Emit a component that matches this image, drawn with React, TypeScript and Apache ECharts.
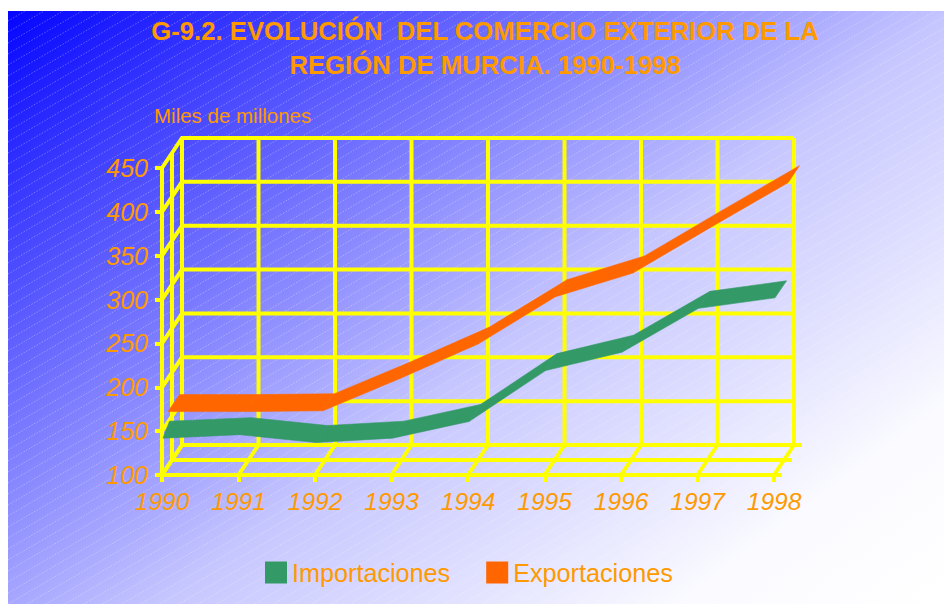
import React, { useEffect, useRef } from "react";
import * as echarts from "echarts";

const categories = ["1990", "1991", "1992", "1993", "1994", "1995", "1996", "1997", "1998"];
const importaciones = [142, 146, 137, 142, 161, 219, 240, 290, 302];
const exportaciones = [162, 162, 163, 200, 239, 293, 320, 372, 423];
const valueTicks = [100, 150, 200, 250, 300, 350, 400, 450];
const titleText = "G-9.2. EVOLUCIÓN  DEL COMERCIO EXTERIOR DE LA\nREGIÓN DE MURCIA. 1990-1998";
const unitText = "Miles de millones";

const ORANGE_TEXT = "#FF9900";
const YELLOW = "#FFFF00";
const GREEN = "#339966";
const RED_ORANGE = "#FF6600";
const FONT = "'Liberation Sans', Arial, sans-serif";
const LINE = 4;

// panel + diagonal hatching
const PX = 8, PY = 11, PW = 936, PH = 593;
function hatchPath() {
  const slope = 0.58, step = 11;
  let d = "";
  for (let y0 = 21; y0 < PY + PH + PW * slope; y0 += step) {
    let x1 = PX, y1 = y0;
    if (y1 > PY + PH) { x1 = PX + (y1 - (PY + PH)) / slope; y1 = PY + PH; }
    let x2 = PX + PW, y2 = y0 - PW * slope;
    if (y2 < PY) { x2 = PX + (y0 - PY) / slope; y2 = PY; }
    if (x1 < x2) d += `M${x1.toFixed(1)} ${y1.toFixed(1)}L${x2.toFixed(1)} ${y2.toFixed(1)}`;
  }
  return d;
}
echarts.graphic.registerShape("hatch", (echarts.graphic as any).extendPath(hatchPath(), {}));

// depth of the 3D box
const DX = 20, DY = -30;
const last = categories.length - 1;

function wallH(params: any, api: any) {
  const v = api.value(1);
  const a = api.coord([0, v]);
  const b = api.coord([last, v]);
  return {
    type: "polyline",
    shape: { points: [a, [a[0] + DX, a[1] + DY], [b[0] + DX, b[1] + DY]] },
    style: { stroke: YELLOW, fill: "none", lineWidth: LINE },
  };
}
function wallV(params: any, api: any) {
  const i = api.value(0);
  const a = api.coord([i, valueTicks[0]]);
  const t = api.coord([i, valueTicks[valueTicks.length - 1]]);
  return {
    type: "polyline",
    shape: { points: [a, [a[0] + DX, a[1] + DY], [t[0] + DX, t[1] + DY]] },
    style: { stroke: YELLOW, fill: "none", lineWidth: LINE },
  };
}
// middle lines on the floor and on the side wall, plus floor overhang
function floorLines(params: any, api: any) {
  const a = api.coord([0, valueTicks[0]]);
  const b = api.coord([last, valueTicks[0]]);
  const t = api.coord([0, valueTicks[valueTicks.length - 1]]);
  const over = 8;
  const line = (p: number[][]) => ({
    type: "polyline",
    shape: { points: p },
    style: { stroke: YELLOW, fill: "none", lineWidth: LINE },
  });
  return {
    type: "group",
    children: [
      line([b, [b[0] + over, b[1]]]),
      line([[a[0] + DX / 2, a[1] + DY / 2], [b[0] + DX / 2 + over, b[1] + DY / 2]]),
      line([[b[0] + DX, b[1] + DY], [b[0] + DX + over, b[1] + DY]]),
      line([[t[0] + DX / 2, t[1] + DY / 2], [a[0] + DX / 2, a[1] + DY / 2]]),
    ],
  };
}

function ribbon(values: number[], color: string, fx: number, fy: number, grow: number, inset: number) {
  return (params: any, api: any) => {
    const i = params.dataIndex;
    if (i >= values.length - 1) return null;
    const p = api.coord([i, values[i]]);
    const q = api.coord([i + 1, values[i + 1]]);
    const depthX = 11.5, depthY = -17;
    const front = (c: number[], k: number) => [c[0] + fx + grow * k, c[1] + fy];
    const back = (c: number[], k: number) => [
      c[0] + fx + grow * k + depthX - (k === 0 ? inset : 0),
      c[1] + fy + depthY,
    ];
    return {
      type: "polygon",
      shape: { points: [front(p, i), back(p, i), back(q, i + 1), front(q, i + 1)] },
      style: { fill: color, stroke: color, lineWidth: 0.6 },
    };
  };
}

export default function App() {
  const ref = useRef<HTMLDivElement>(null);
  useEffect(() => {
    const chart = echarts.init(ref.current!, null, { renderer: "svg" });
    chart.setOption({
      animation: false,
      backgroundColor: "#ffffff",
      title: {
        text: titleText,
        left: 480,
        top: 9,
        textAlign: "center",
        textStyle: { color: ORANGE_TEXT, fontFamily: FONT, fontWeight: "bold", fontSize: 25.7, lineHeight: 34 },
      },
      legend: {
        left: 260,
        top: 555,
        itemWidth: 22,
        itemHeight: 22,
        itemGap: 36,
        icon: "rect",
        data: ["Importaciones", "Exportaciones"],
        textStyle: { color: ORANGE_TEXT, fontFamily: FONT, fontSize: 25.2, padding: [0, 0, 2, 0] },
      },
      grid: { left: 162, top: 168, right: 944 - 774, bottom: 604 - 475 },
      xAxis: {
        type: "category",
        boundaryGap: false,
        data: categories,
        axisLine: { lineStyle: { color: YELLOW, width: LINE } },
        axisTick: { length: 7, alignWithLabel: true, lineStyle: { color: YELLOW, width: LINE } },
        axisLabel: { color: ORANGE_TEXT, fontFamily: FONT, fontStyle: "italic", fontSize: 24.5, margin: 14, interval: 0 },
        splitLine: { show: false },
      },
      yAxis: {
        type: "value",
        min: 100,
        max: 450,
        interval: 50,
        axisLine: { show: true, lineStyle: { color: YELLOW, width: LINE } },
        axisTick: { show: true, length: 7, lineStyle: { color: YELLOW, width: LINE } },
        axisLabel: { color: ORANGE_TEXT, fontFamily: FONT, fontStyle: "italic", fontSize: 25, margin: 14 },
        splitLine: { show: false },
      },
      graphic: [
        {
          type: "rect",
          z: -20,
          silent: true,
          shape: { x: PX, y: PY, width: PW, height: PH },
          style: {
            fill: new echarts.graphic.LinearGradient(0, 0, 627, 839, [
              { offset: 0, color: "rgb(0,0,255)" },
              { offset: 0.557, color: "rgb(199,199,255)" },
              { offset: 0.7, color: "rgb(222,222,255)" },
              { offset: 0.85, color: "rgb(250,250,255)" },
              { offset: 1, color: "rgb(255,255,255)" },
            ], true),
          },
        },
        {
          type: "hatch",
          z: -19,
          silent: true,
          style: { fill: "none", stroke: "rgba(255,255,255,0.3)", lineWidth: 1, lineDash: [1.5, 1.5] },
        },
        {
          type: "text",
          z: 5,
          x: 154,
          y: 105,
          style: { text: unitText, fill: ORANGE_TEXT, font: `20.5px ${FONT}` },
        },
      ] as any,
      series: [
        {
          type: "custom",
          name: "marcoH",
          silent: true,
          z: 1,
          renderItem: wallH,
          data: valueTicks.map((t) => [0, t]),
          encode: { x: 0, y: 1 },
        },
        {
          type: "custom",
          name: "marcoV",
          silent: true,
          z: 1,
          renderItem: wallV,
          data: categories.map((c, i) => [i, valueTicks[0]]),
          encode: { x: 0, y: 1 },
        },
        {
          type: "custom",
          name: "suelo",
          silent: true,
          z: 1,
          renderItem: floorLines,
          data: [[0, valueTicks[0]]],
          encode: { x: 0, y: 1 },
        },
        {
          type: "custom",
          name: "Exportaciones",
          z: 3,
          itemStyle: { color: RED_ORANGE },
          renderItem: ribbon(exportaciones, RED_ORANGE, 6, -9, 1, 0),
          data: exportaciones.map((v, i) => [i, v]),
          encode: { x: 0, y: 1 },
        },
        {
          type: "custom",
          name: "Importaciones",
          z: 4,
          itemStyle: { color: GREEN },
          renderItem: ribbon(importaciones, GREEN, 1, 0, 0, 5),
          data: importaciones.map((v, i) => [i, v]),
          encode: { x: 0, y: 1 },
        },
      ],
    });
    return () => chart.dispose();
  }, []);
  return <div ref={ref} style={{ position: "absolute", left: 0, top: 0, width: 944, height: 604 }} />;
}
